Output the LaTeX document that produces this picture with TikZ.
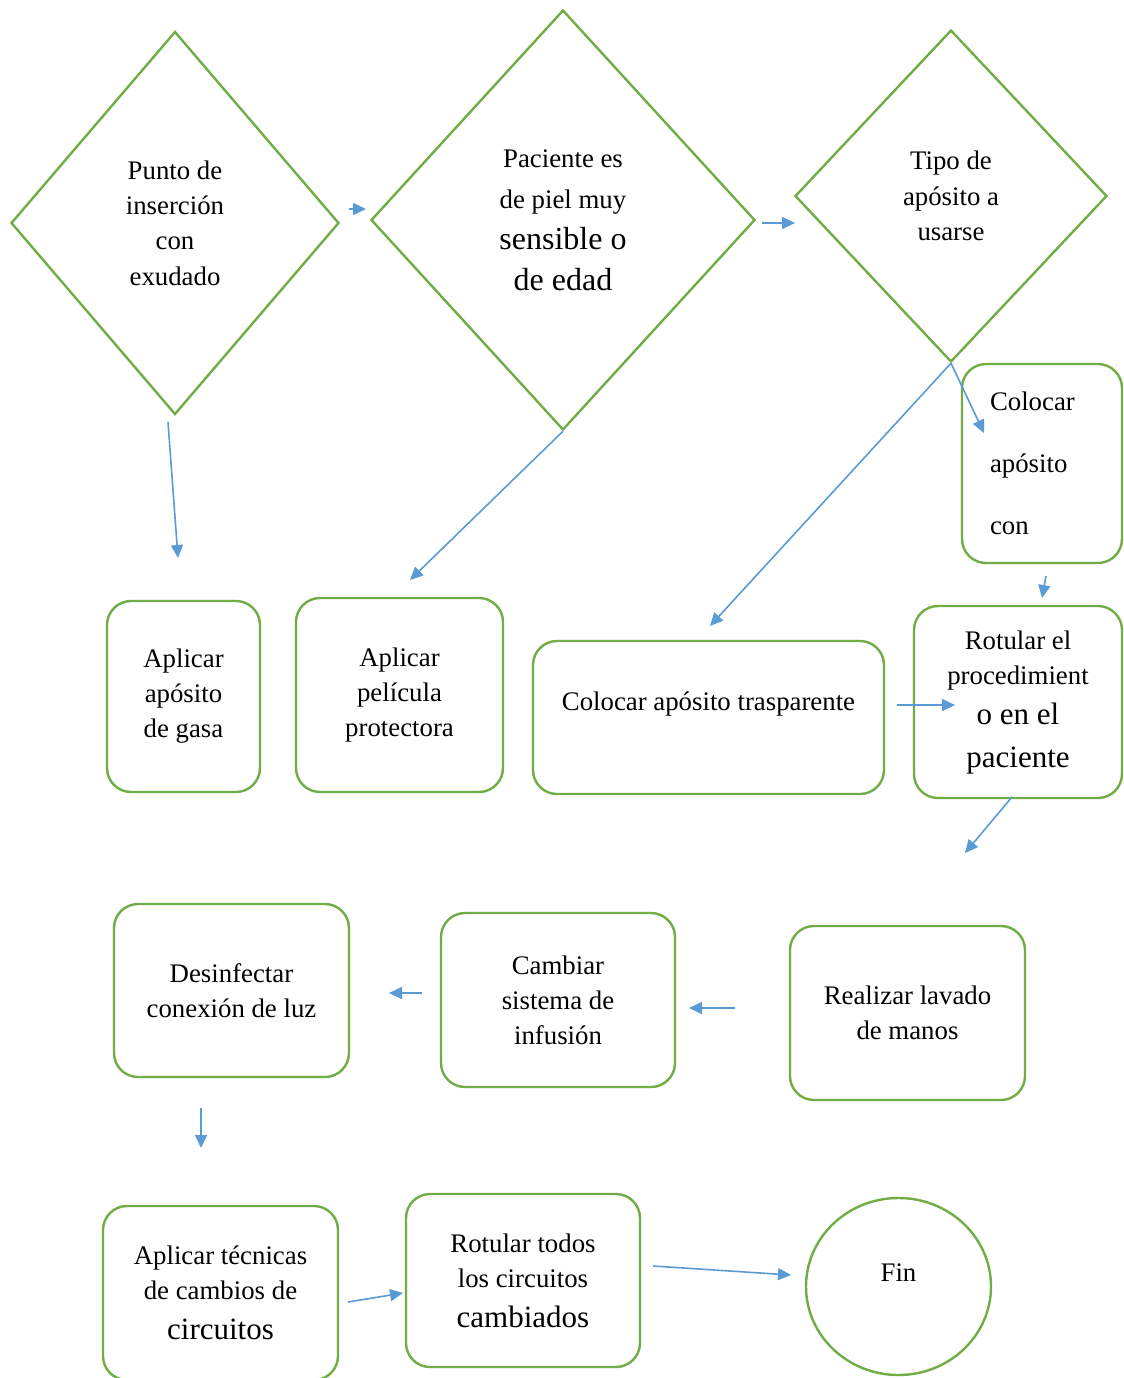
\documentclass[tikz,border=0pt]{standalone}
\usepackage{fontspec}
\setmainfont{Liberation Serif}
\usetikzlibrary{shapes.geometric,arrows.meta}
\definecolor{gr}{HTML}{70AD47}
\definecolor{bl}{HTML}{5B9BD5}
\begin{document}
\begin{tikzpicture}[x=0.5pt,y=-0.5pt,
 dia/.style={diamond,draw=gr,line width=1.2pt,inner sep=0pt,align=center,font=\fontsize{13.4}{17.7}\selectfont},
 box/.style={draw=gr,line width=1.2pt,rounded corners=12pt,align=center,inner sep=0pt,font=\fontsize{13.4}{17.5}\selectfont},
 arr/.style={draw=bl,line width=0.8pt,-{Triangle[length=6.5pt,width=6pt]}}]
\useasboundingbox[fill=white] (0,0) rectangle (1124,1378);
\def\big{\fontsize{16}{20.5}\selectfont}
\def\bigb{\fontsize{15.5}{19.5}\selectfont}
% diamonds
\node[dia,minimum width=164pt,minimum height=191.5pt] (d1) at (175,223) {Punto de\\inserción\\con\\exudado};
\node[dia,minimum width=192pt,minimum height=210pt,font=\fontsize{13.4}{20.5}\selectfont] (d2) at (563,220) {Paciente es\\de piel muy\\\big sensible o\\\big de edad};
\node[dia,minimum width=156pt,minimum height=166pt] (d3) at (951,196) {Tipo de\\apósito a\\usarse};
% boxes
\node[box,minimum width=80pt,minimum height=99.5pt,text width=52pt,align=left,font=\fontsize{13.4}{31}\selectfont] (b1) at (1042,463.5) {Colocar\\apósito\\con};
\node[box,minimum width=104pt,minimum height=96pt] (b2) at (1018,702) {Rotular el\\procedimient\\[2.5pt]\bigb o en el\\[4pt]\bigb paciente};
\node[box,minimum width=76.5pt,minimum height=95.5pt] (a1) at (183.5,696.5) {Aplicar\\apósito\\de gasa};
\node[box,minimum width=103.5pt,minimum height=97pt] (a2) at (399.5,695) {Aplicar\\película\\protectora};
\node[box,minimum width=175.5pt,minimum height=76.5pt,text height=10pt,text depth=17.3pt] (a3) at (708.5,717.5) {Colocar apósito trasparente};
\node[box,minimum width=117.5pt,minimum height=87pt] (r1) at (907.5,1013) {Realizar lavado\\de manos};
\node[box,minimum width=117pt,minimum height=87pt] (r2) at (558,1000) {Cambiar\\sistema de\\infusión};
\node[box,minimum width=117.5pt,minimum height=86.5pt] (r3) at (231.5,990.5) {Desinfectar\\conexión de luz};
\node[box,minimum width=117.5pt,minimum height=87pt] (c1) at (220.5,1293) {Aplicar técnicas\\de cambios de\\[2.5pt]\bigb circuitos};
\node[box,minimum width=117pt,minimum height=86.5pt] (c2) at (523,1280.5) {Rotular todos\\los circuitos\\[2.5pt]\bigb cambiados};
\node[ellipse,draw=gr,line width=1.2pt,minimum width=92.5pt,minimum height=88.5pt,inner sep=0pt,font=\fontsize{13.4}{17.5}\selectfont,text height=9pt,text depth=14.5pt] (fin) at (898.5,1286.5) {Fin};
% free arrow ends
\coordinate (p1a) at (349,209);  \coordinate (p1b) at (366,209);
\coordinate (p2a) at (762,223);  \coordinate (p2b) at (795,223);
\coordinate (p3a) at (168,422);  \coordinate (p3b) at (178,558);
\coordinate (p4b) at (410,580);
\coordinate (p5b) at (710,626);
\coordinate (p6b) at (984,433);
\coordinate (p7a) at (1046,576); \coordinate (p7b) at (1042,598);
\coordinate (p8a) at (897,705);  \coordinate (p8b) at (955,705);
\coordinate (p9a) at (1012,797); \coordinate (p9b) at (965,853);
\coordinate (p10a) at (735,1008); \coordinate (p10b) at (689,1008);
\coordinate (p11a) at (422,993); \coordinate (p11b) at (389,993);
\coordinate (p12a) at (201,1108); \coordinate (p12b) at (201,1148);
\coordinate (p13a) at (348,1302); \coordinate (p13b) at (403,1293);
\coordinate (p14a) at (653,1266); \coordinate (p14b) at (791,1275);
% arrows
\draw[arr] (p1a) -- (p1b);
\draw[arr] (p2a) -- (p2b);
\draw[arr] (p3a) -- (p3b);
\draw[arr] (d2.south) -- (p4b);
\draw[arr] (d3.south) -- (p5b);
\draw[arr] (d3.south) -- (p6b);
\draw[arr] (p7a) -- (p7b);
\draw[arr] (p8a) -- (p8b);
\draw[arr] (p9a) -- (p9b);
\draw[arr] (p10a) -- (p10b);
\draw[arr] (p11a) -- (p11b);
\draw[arr] (p12a) -- (p12b);
\draw[arr] (p13a) -- (p13b);
\draw[arr] (p14a) -- (p14b);
\end{tikzpicture}
\end{document}
